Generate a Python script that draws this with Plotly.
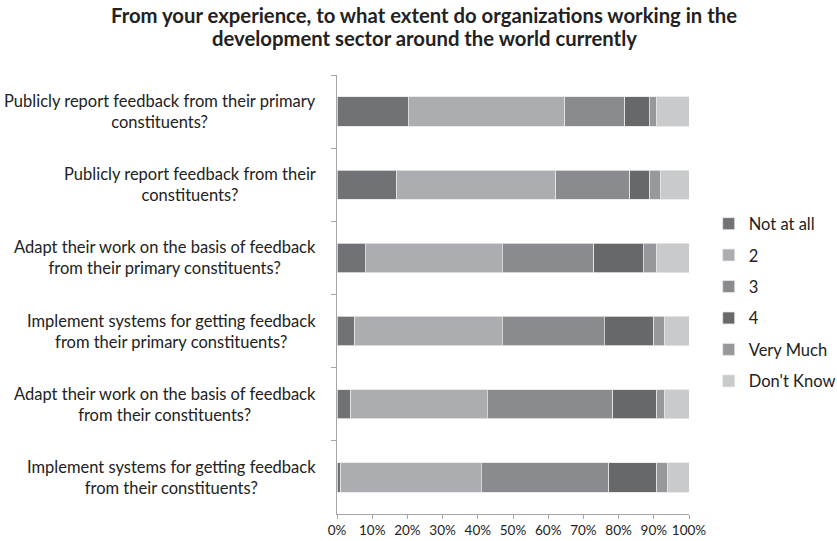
import plotly.graph_objects as go

categories = [
    "Publicly report feedback from their primary<br>constituents?",
    "Publicly report feedback from their<br>constituents?",
    "Adapt their work on the basis of feedback<br>from their primary constituents?",
    "Implement systems for getting feedback<br>from their primary constituents?",
    "Adapt their work on the basis of feedback<br>from their constituents?",
    "Implement systems for getting feedback<br>from their constituents?",
]
series_names = ["Not at all", "2", "3", "4", "Very Much", "Don't Know"]
not_at_all = [20.2, 17.0, 8.0, 5.1, 3.9, 1.0]
two = [44.5, 45.2, 39.0, 41.9, 38.8, 40.0]
three = [17.1, 21.0, 26.0, 28.9, 35.6, 36.2]
four = [6.9, 5.7, 14.0, 14.1, 12.6, 13.7]
very_much = [2.2, 2.9, 3.9, 3.0, 2.0, 2.9]
dont_know = [9.1, 8.2, 9.1, 7.0, 7.1, 6.2]
series_values = [not_at_all, two, three, four, very_much, dont_know]
colors = ["#717276", "#acadb0", "#8a8b8e", "#67686a", "#97989b", "#c9cacc"]
x_ticks = [0, 10, 20, 30, 40, 50, 60, 70, 80, 90, 100]
x_tick_labels = [f"{v}%" for v in x_ticks]
title_lines = [
    "From your experience, to what extent do organizations working in the",
    "development sector around the world currently",
]

FONT = "Lato, 'Open Sans', sans-serif"

fig = go.Figure()
for i, (name, vals) in enumerate(zip(series_names, series_values)):
    fig.add_trace(go.Bar(
        name=name, y=categories, x=vals, orientation="h",
        marker=dict(color=colors[i], line=dict(color="#e6e6e6", width=0.8)),
        legendgroup=name,
    ))

for c in categories:
    fig.add_annotation(
        text=c, xref="paper", yref="y", x=-0.055, y=c,
        xanchor="right", yanchor="middle", align="center", showarrow=False,
        font=dict(family=FONT, size=16.5, color="#222222"),
    )

for line, ypos in zip(title_lines, [1.1367, 1.0843]):
    fig.add_annotation(
        text=f"<b>{line}</b>", xref="paper", yref="paper", x=0.248, y=ypos,
        xanchor="center", yanchor="middle", showarrow=False,
        font=dict(family=FONT, size=20.3, color="#222222"),
    )

fig.update_layout(
    width=837, height=541,
    barmode="stack", bargap=0.6,
    plot_bgcolor="white", paper_bgcolor="white",
    margin=dict(l=337, r=148, t=75, b=27, autoexpand=False),
    font=dict(family=FONT, size=13.5, color="#222222"),
    showlegend=True,
    legend=dict(
        x=1.056, y=0.482, xanchor="left", yanchor="middle",
        traceorder="grouped", tracegroupgap=7,
        font=dict(family=FONT, size=16.5, color="#222222"),
        itemwidth=30,
    ),
)
fig.update_xaxes(
    range=[0, 100], tickvals=x_ticks, ticktext=x_tick_labels,
    showgrid=False, zeroline=False,
    showline=True, linecolor="#a6a6a6", linewidth=1,
    ticks="outside", ticklen=4, tickcolor="#a6a6a6",
    tickfont=dict(family=FONT, size=13.5, color="#222222"),
)
fig.update_yaxes(
    autorange="reversed", showticklabels=False,
    showgrid=False, zeroline=False,
    showline=True, linecolor="#a6a6a6", linewidth=1,
    ticks="outside", ticklen=5, tickcolor="#a6a6a6", tickson="boundaries",
)

fig.write_html("out.html")
